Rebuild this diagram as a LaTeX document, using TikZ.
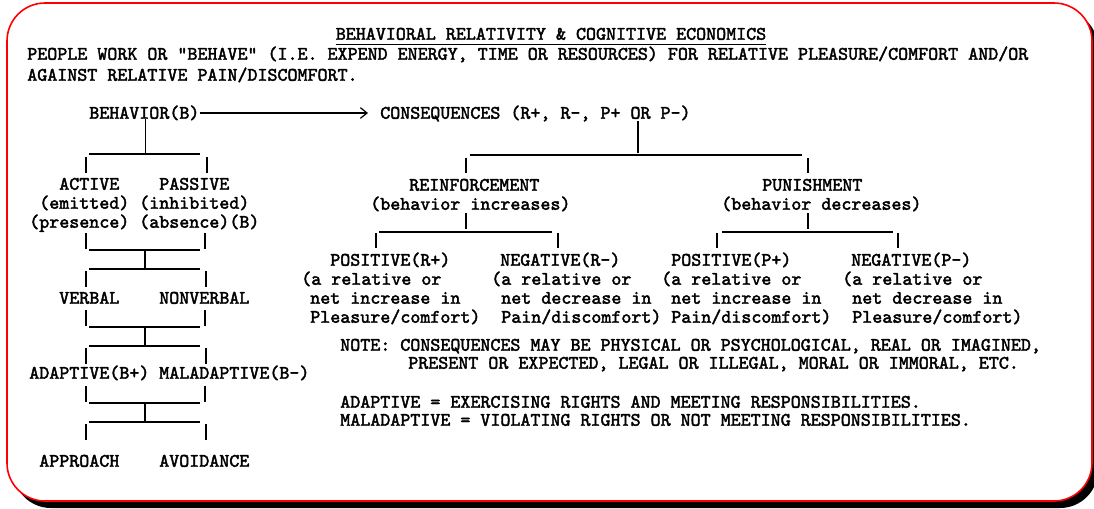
\documentclass[tikz,border=0pt]{standalone}
\usepackage{fontspec}
\setmonofont{lmmono10-regular.otf}[BoldFont=lmmono10-regular.otf, BoldFeatures={FakeBold=2.2}]
\usetikzlibrary{arrows.meta}

\tikzset{
  txt/.style={font=\fontsize{14.3}{17}\selectfont\ttfamily\bfseries, inner sep=0pt,
    text height=8.6pt, text depth=0pt, anchor=west},
  wire/.style={line width=0.9pt, black},
}

\begin{document}
\begin{tikzpicture}[x=0.75pt, y=-0.75pt]
  \useasboundingbox (0,0) rectangle (1094,508);
  \fill[black, rounded corners=28.5pt] (13,10) rectangle (1098,508);
  \draw[red, fill=white, line width=1.2pt, rounded corners=28.5pt] (7,3) rectangle (1092,501);

  % header
  \node[txt, anchor=center] (title) at (551,34) {BEHAVIORAL RELATIVITY \& COGNITIVE ECONOMICS};
  \draw[wire] ([yshift=-3.4pt]title.south west) -- ([yshift=-3.4pt]title.south east);
  \node[txt] (intro1) at (27,54) {PEOPLE WORK OR “BEHAVE” (I.E. EXPEND ENERGY, TIME OR RESOURCES) FOR RELATIVE PLEASURE/COMFORT AND/OR};
  \node[txt] (intro2) at (27,75) {AGAINST RELATIVE PAIN/DISCOMFORT.};

  \node[txt] (behav) at (89,113) {BEHAVIOR(B)};
  \node[txt] (conseq) at (380,113) {CONSEQUENCES (R+, R-, P+ OR P-)};
  \draw[wire, -{Straight Barb[length=5pt, width=8pt]}, shorten >=9pt] (behav.east) -- (conseq.west);

  % behavior side
  \node[txt] (active) at (59,184) {ACTIVE};
  \node[txt] (passive) at (159,184) {PASSIVE};
  \node[txt] (emitted) at (39,203) {(emitted)};
  \node[txt] (inhibited) at (139,203) {(inhibited)};
  \node[txt] (presence) at (29,222) {(presence)};
  \node[txt] (absence) at (139,222) {(absence)(B)};
  \node[txt] (verbal) at (59,298) {VERBAL};
  \node[txt] (nonverbal) at (159,298) {NONVERBAL};
  \node[txt] (adaptive) at (29,373) {ADAPTIVE(B+)};
  \node[txt] (maladaptive) at (159,373) {MALADAPTIVE(B-)};
  \node[txt] (approach) at (39,461) {APPROACH};
  \node[txt] (avoidance) at (159,461) {AVOIDANCE};

  \draw[wire] ([xshift=0.75pt]behav.south) -- ++(0,35);
  \draw[wire] (89,154) -- (200,154);
  \draw[wire] (86,157) -- (86,173) (207,157) -- (207,173);
  \foreach \a in {233,310,386} {
    \draw[wire] (86,\a) -- ++(0,16) (205,\a) -- ++(0,16);
    \draw[wire] (89,\a+17) -- ++(111,0);
    \draw[wire] (145,\a+17) -- ++(0,19);
    \draw[wire] (89,\a+36) -- ++(111,0);
    \draw[wire] (86,\a+38) -- ++(0,16) (206,\a+38) -- ++(0,16);
  }

  % consequence side
  \draw[wire] (638,121) -- (638,153);
  \draw[wire] (470,155) -- (802,155);
  \draw[wire] (466,158) -- (466,173) (808,158) -- (808,173);

  \node[txt] (reinf) at (409,185) {REINFORCEMENT};
  \node[txt] (reinfnote) at (370,204) {(behavior increases)};
  \node[txt] (punish) at (762,185) {PUNISHMENT};
  \node[txt] (punishnote) at (721,204) {(behavior decreases)};

  \draw[wire] (466,213) -- (466,229);
  \draw[wire] (379,232) -- (552,232);
  \draw[wire] (376,233) -- (376,248) (558,233) -- (558,248);
  \draw[wire] (808,213) -- (808,229);
  \draw[wire] (722,232) -- (893,232);
  \draw[wire] (717,233) -- (717,248) (898,233) -- (898,248);

  \node[txt] (rpos) at (330,260) {POSITIVE(R+)};
  \node[txt] (rposa) at (301,279) {(a relative or};
  \node[txt] (rposb) at (310,298) {net increase in};
  \node[txt] (rposc) at (310,317) {Pleasure/comfort)};

  \node[txt] (rneg) at (500,260) {NEGATIVE(R-)};
  \node[txt] (rnega) at (491,279) {(a relative or};
  \node[txt] (rnegb) at (501,298) {net decrease in};
  \node[txt] (rnegc) at (501,317) {Pain/discomfort)};

  \node[txt] (ppos) at (671,260) {POSITIVE(P+)};
  \node[txt] (pposa) at (661,279) {(a relative or};
  \node[txt] (pposb) at (671,298) {net increase in};
  \node[txt] (pposc) at (671,317) {Pain/discomfort)};

  \node[txt] (pneg) at (851,260) {NEGATIVE(P-)};
  \node[txt] (pnega) at (842,279) {(a relative or};
  \node[txt] (pnegb) at (852,298) {net decrease in};
  \node[txt] (pnegc) at (852,317) {Pleasure/comfort)};

  % notes
  \node[txt] (note1) at (340,345) {NOTE: CONSEQUENCES MAY BE PHYSICAL OR PSYCHOLOGICAL, REAL OR IMAGINED,};
  \node[txt] (note2) at (408,363) {PRESENT OR EXPECTED, LEGAL OR ILLEGAL, MORAL OR IMMORAL, ETC.};
  \node[txt] (def1) at (340,402) {ADAPTIVE = EXERCISING RIGHTS AND MEETING RESPONSIBILITIES.};
  \node[txt] (def2) at (340,420) {MALADAPTIVE = VIOLATING RIGHTS OR NOT MEETING RESPONSIBILITIES.};
\end{tikzpicture}
\end{document}
